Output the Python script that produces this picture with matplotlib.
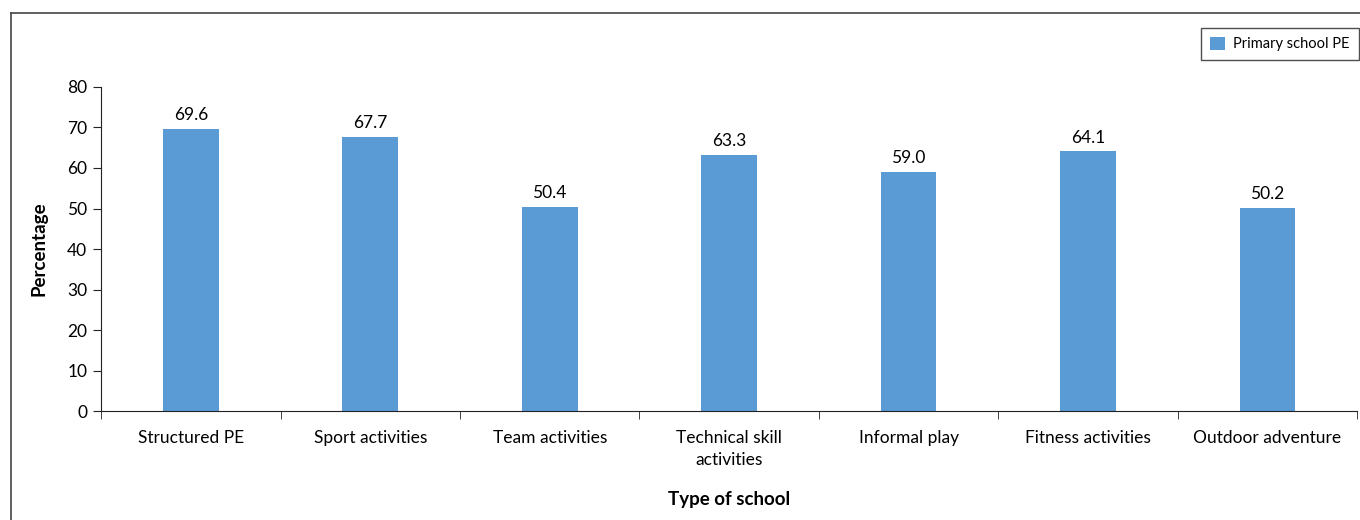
import numpy as np
import matplotlib.pyplot as plt
from matplotlib.lines import Line2D

categories = ["Structured PE", "Sport activities", "Team activities",
              "Technical skill\nactivities", "Informal play",
              "Fitness activities", "Outdoor adventure"]
values = [69.6, 67.7, 50.4, 63.3, 59.0, 64.1, 50.2]
series_name = "Primary school PE"

plt.rcParams['font.family'] = ['Lato', 'DejaVu Sans']
bar_color = "#5B9BD5"

fig = plt.figure(figsize=(13.6, 5.2), dpi=100)
ax = fig.add_axes([0.0743, 0.2096, 0.9237, 0.6231])

x = np.arange(len(categories))
bars = ax.bar(x, values, width=0.31, color=bar_color, label=series_name)
for xi, v in zip(x, values):
    ax.text(xi, v + 1.4, f"{v:.1f}", ha='center', va='bottom', fontsize=12.5)

ax.set_xlim(-0.5, len(categories) - 0.5)
ax.set_ylim(0, 80)
ax.set_yticks(range(0, 81, 10))
ax.set_xticks(x)
ax.set_xticklabels(categories, fontsize=12.5, linespacing=1.45, va='top')
ax.tick_params(axis='x', length=0, pad=14)
ax.set_xticks(np.arange(-0.5, len(categories), 1.0), minor=True)
ax.tick_params(axis='x', which='minor', length=6, direction='out', color='#222222')
ax.tick_params(axis='y', length=6, labelsize=12.5, pad=4, color='#222222')

for s in ['top', 'right']:
    ax.spines[s].set_visible(False)
for s in ['left', 'bottom']:
    ax.spines[s].set_color('#222222')

ax.set_ylabel("Percentage", fontsize=13.5, fontweight='bold', labelpad=14)
ax.set_xlabel("Type of school", fontsize=13.5, fontweight='bold', labelpad=16)

leg = ax.legend(loc='upper right', bbox_to_anchor=(1.001, 1.182), borderaxespad=0,
                fontsize=10.5, frameon=True, fancybox=False, edgecolor='#222222',
                handlelength=1.0, handleheight=1.0, borderpad=0.6, handletextpad=0.6)
leg.get_frame().set_linewidth(1.0)

# outer frame
fx = 11 / 1360
fy = 1 - 13 / 520
fig.add_artist(Line2D([fx, fx], [0, fy], color='#444444', lw=1.2, transform=fig.transFigure))
fig.add_artist(Line2D([fx, 1], [fy, fy], color='#444444', lw=1.2, transform=fig.transFigure))

fig.savefig("out.png", dpi=100)
